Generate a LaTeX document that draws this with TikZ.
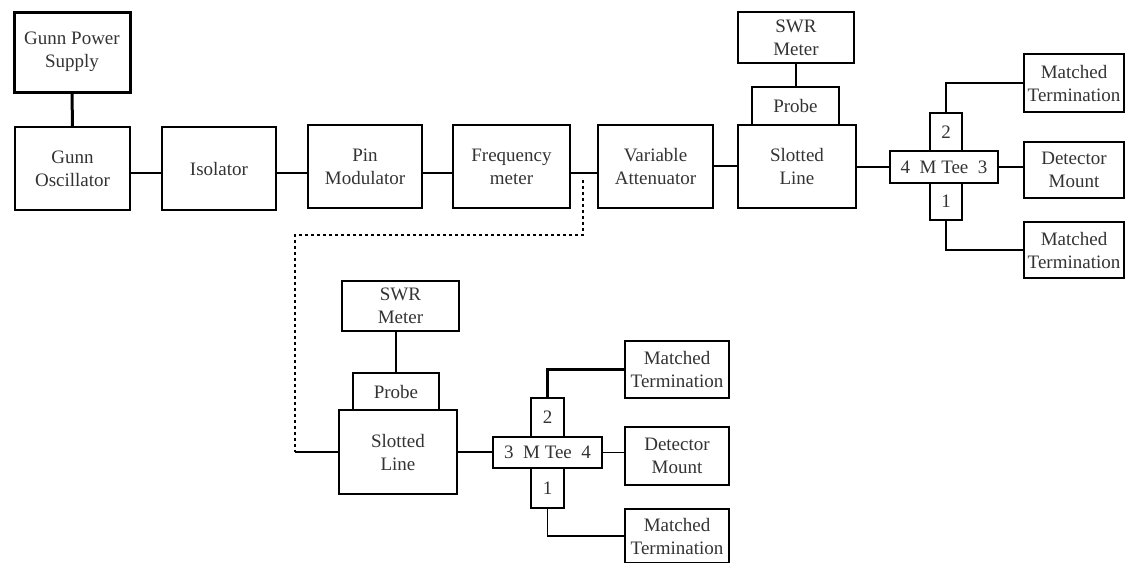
\documentclass[tikz,border=0pt]{standalone}
\usepackage{fontspec}
\setmainfont{Liberation Serif}
\begin{document}
\begin{tikzpicture}[x=1pt,y=-1pt,
  box/.style={draw=black, line width=1.6pt, rectangle, inner sep=0pt, align=center,
    font=\fontsize{19}{23}\selectfont, text=black!80},
  wire/.style={draw=black, line width=1.6pt},
  dotwire/.style={draw=black, line width=1.6pt, dash pattern=on 3pt off 3pt}]
\useasboundingbox (0,0) rectangle (1126,562);
% top row
\node[box, line width=3pt, minimum width=116, minimum height=80] (ps) at (72,52) {Gunn Power\\Supply};
\node[box, minimum width=115, minimum height=83] (osc) at (72.5,168.5) {Gunn\\Oscillator};
\node[box, minimum width=114, minimum height=83] (iso) at (219,168.5) {Isolator};
\node[box, minimum width=114, minimum height=83] (pin) at (365,166.5) {Pin\\Modulator};
\node[box, minimum width=117, minimum height=83] (freq) at (511.5,166.5) {Frequency\\meter};
\node[box, minimum width=115, minimum height=83] (att) at (655.5,166.5) {Variable\\Attenuator};
\node[box, minimum width=118, minimum height=83] (sl1) at (797,166.5) {Slotted\\Line};
\node[box, minimum width=87, minimum height=38] (pr1) at (795.5,106) {Probe};
\node[box, minimum width=116, minimum height=51] (swr1) at (796,37.5) {SWR\\Meter};
\node[box, minimum width=108, minimum height=32] (tee1) at (944,167) {4\ \ M Tee\ \ 3};
\node[box, minimum width=32, minimum height=38] (pa2) at (946,132) {2};
\node[box, minimum width=32, minimum height=37] (pa1) at (946,201.5) {1};
\node[box, minimum width=100, minimum height=58] (mta) at (1074,83) {Matched\\Termination};
\node[box, minimum width=100, minimum height=56] (deta) at (1074,170) {Detector\\Mount};
\node[box, minimum width=100, minimum height=56] (mtb) at (1074,250) {Matched\\Termination};
% bottom group
\node[box, minimum width=117, minimum height=50] (swr2) at (400.5,306) {SWR\\Meter};
\node[box, minimum width=86, minimum height=37] (pr2) at (396,391.5) {Probe};
\node[box, line width=2.2pt, minimum width=118, minimum height=84] (sl2) at (398,452) {Slotted\\Line};
\node[box, minimum width=109, minimum height=31] (tee2) at (547.5,452.5) {3\ \ M Tee\ \ 4};
\node[box, minimum width=33, minimum height=39] (pb2) at (547.5,417.5) {2};
\node[box, minimum width=33, minimum height=40] (pb1) at (547.5,488) {1};
\node[box, minimum width=104, minimum height=57] (mtc) at (677,369.5) {Matched\\Termination};
\node[box, minimum width=104, minimum height=58] (detb) at (677,456) {Detector\\Mount};
\node[box, minimum width=104, minimum height=54] (mtd) at (677,536) {Matched\\Termination};
% connectors top
\draw[wire, line width=3pt] (ps) -- (osc);
\draw[wire] (osc.east |- 0,173) -- (iso.west |- 0,173);
\draw[wire] (iso.east |- 0,173) -- (pin.west |- 0,173);
\draw[wire] (pin.east |- 0,173) -- (freq.west |- 0,173);
\draw[wire] (freq.east |- 0,173) -- (att.west |- 0,173);
\draw[wire] (att.east |- 0,166) -- (sl1.west |- 0,166);
\draw[wire] (swr1) -- (swr1 |- pr1.north);
\draw[wire] (sl1.east |- tee1.west) -- (tee1.west);
\draw[wire] (tee1.east) -- (deta.west |- tee1.east);
\draw[wire] (pa2.north) |- (mta.west);
\draw[wire] (pa1.south) |- (mtb.west);
% connectors bottom
\draw[wire] (swr2.south -| pr2.north) -- (pr2.north);
\draw[wire] (sl2.east) -- (tee2.west |- sl2.east);
\draw[wire] (tee2.east) -- (detb.west |- tee2.east);
\draw[wire, line width=2.4pt] (pb2.north) |- (mtc.west);
\draw[wire] (pb1.south) |- (mtd.west);
% dotted link
\coordinate (d0) at (583,180);
\coordinate (d1) at (583,235);
\coordinate (d2) at (295,235);
\coordinate (d3) at (295,452);
\draw[dotwire] (d0) -- (d1) -- (d2) -- (d3);
\draw[wire] (d3) -- (sl2.west);
\end{tikzpicture}
\end{document}
